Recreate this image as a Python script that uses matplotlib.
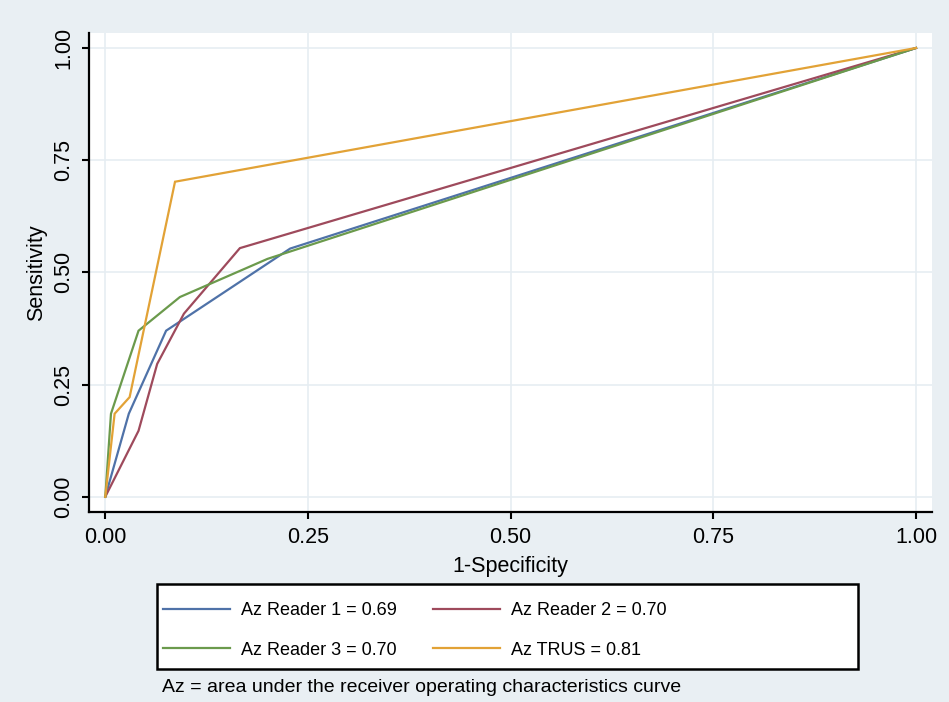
import matplotlib
matplotlib.use("Agg")
import matplotlib.pyplot as plt
from matplotlib.patches import Rectangle

plt.rcParams['font.family'] = ['Liberation Sans', 'DejaVu Sans']

# Data
reader1_x = [0.0, 0.029, 0.075, 0.228, 1.0]
reader1_y = [0.0, 0.185, 0.370, 0.553, 1.0]
reader2_x = [0.0, 0.041, 0.064, 0.097, 0.166, 1.0]
reader2_y = [0.0, 0.147, 0.296, 0.408, 0.554, 1.0]
reader3_x = [0.0, 0.007, 0.041, 0.092, 0.200, 1.0]
reader3_y = [0.0, 0.185, 0.370, 0.445, 0.530, 1.0]
trus_x = [0.0, 0.0115, 0.030, 0.086, 1.0]
trus_y = [0.0, 0.185, 0.222, 0.702, 1.0]

series_labels = ["Az Reader 1 = 0.69", "Az Reader 2 = 0.70",
                 "Az Reader 3 = 0.70", "Az TRUS = 0.81"]
tick_values = [0.0, 0.25, 0.5, 0.75, 1.0]
tick_labels = ["0.00", "0.25", "0.50", "0.75", "1.00"]
note_text = "Az = area under the receiver operating characteristics curve"

colors = ['#4f72a8', '#9e4a5c', '#6b9a4c', '#e2a236']
bg = '#e9eff3'
grid_c = '#e6edf2'

W, H = 949, 702
fig = plt.figure(figsize=(W / 100, H / 100), dpi=100, facecolor=bg)
ax = fig.add_axes([89 / W, 1 - 512 / H, (932 - 89) / W, (512 - 33) / H])
ax.set_facecolor('white')

lw = 1.6
lines = []
for xs, ys, c, lab in [(reader1_x, reader1_y, colors[0], series_labels[0]),
                       (reader2_x, reader2_y, colors[1], series_labels[1]),
                       (reader3_x, reader3_y, colors[2], series_labels[2]),
                       (trus_x, trus_y, colors[3], series_labels[3])]:
    l, = ax.plot(xs, ys, color=c, lw=lw, label=lab, solid_joinstyle='miter')
    lines.append(l)

ax.set_xlim(-0.0201, 1.0197)
ax.set_ylim(-0.034, 1.0334)
ax.set_xticks(tick_values)
ax.set_xticklabels(tick_labels)
ax.set_yticks(tick_values)
ax.set_yticklabels(tick_labels, rotation=90, va='center')
ax.tick_params(axis='both', direction='out', length=5.3, width=1.5,
               labelsize=15.5, color='black', labelcolor='black', pad=5.5)
ax.grid(True, color=grid_c, lw=1.2)
ax.set_axisbelow(True)
for s in ['top', 'right']:
    ax.spines[s].set_visible(False)
for s in ['left', 'bottom']:
    ax.spines[s].set_linewidth(1.6)
    ax.spines[s].set_color('black')

ax.set_xlabel("1-Specificity", fontsize=15.5, labelpad=5.5)
ax.set_ylabel("Sensitivity", fontsize=15.5, labelpad=4)

# Legend box
fig.patches.append(Rectangle((157 / W, 1 - 669 / H), (858 - 157) / W, (669 - 584) / H,
                             transform=fig.transFigure, facecolor='white',
                             edgecolor='black', lw=1.8, zorder=1))

# Legend (row1 = Reader1, Reader2; row2 = Reader3, TRUS)
order = [0, 2, 1, 3]
leg = fig.legend([lines[i] for i in order], [series_labels[i] for i in order],
                 ncol=2, loc='center left',
                 bbox_to_anchor=(163 / W, 1 - 630.5 / H),
                 fontsize=13, handlelength=3.71, handletextpad=0.61,
                 borderaxespad=0, borderpad=0, labelspacing=1.22,
                 columnspacing=2.0, frameon=False)
leg.set_zorder(2)

fig.text(162 / W, 1 - 688 / H, note_text, fontsize=14, va='center', ha='left')

fig.savefig("out.png", dpi=100, facecolor=bg)
